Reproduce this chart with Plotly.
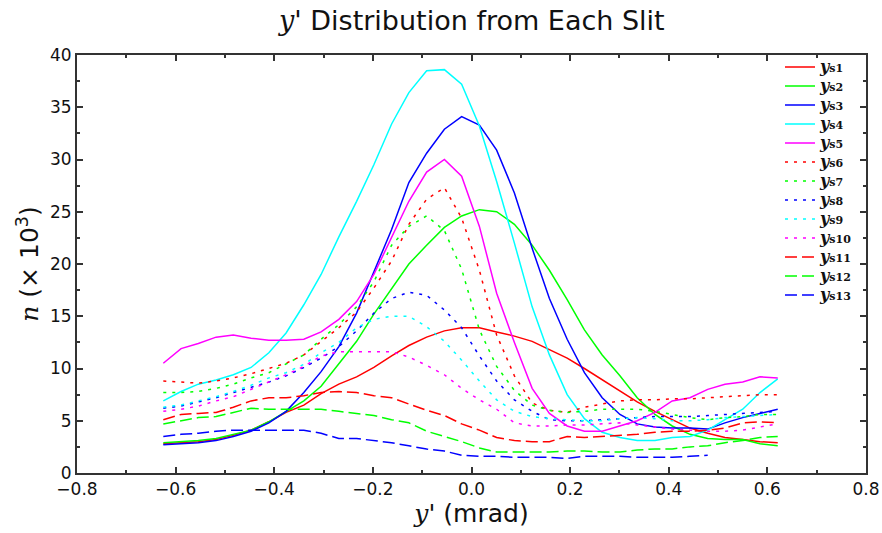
import plotly.graph_objects as go

# x positions (mrad)
x_vals = [-0.625, -0.589, -0.554, -0.518, -0.483, -0.447, -0.411, -0.376, -0.340, -0.305,
          -0.269, -0.233, -0.198, -0.162, -0.127, -0.091, -0.055, -0.020, 0.016, 0.051,
          0.087, 0.123, 0.158, 0.194, 0.229, 0.265, 0.301, 0.336, 0.372, 0.407,
          0.443, 0.479, 0.514, 0.550, 0.585, 0.621]

s1 = [2.8, 2.9, 3.0, 3.2, 3.6, 4.1, 4.9, 5.8, 6.5, 7.6, 8.5, 9.2, 10.1, 11.2, 12.2, 13.0, 13.6, 13.9,
      13.9, 13.5, 13.1, 12.6, 11.8, 11.0, 10.0, 8.9, 7.8, 6.8, 5.9, 5.1, 4.3, 3.8, 3.4, 3.2, 3.0, 2.9]
s2 = [2.9, 3.0, 3.1, 3.3, 3.7, 4.1, 4.9, 5.9, 6.9, 8.3, 10.4, 12.6, 15.2, 17.6, 20.0, 21.8, 23.5, 24.6,
      25.2, 25.0, 23.8, 21.8, 19.4, 16.6, 13.7, 11.3, 9.3, 7.2, 5.6, 4.5, 3.7, 3.3, 3.2, 3.2, 2.8, 2.6]
s3 = [2.7, 2.8, 2.9, 3.1, 3.5, 4.0, 4.8, 5.9, 7.7, 9.7, 12.1, 15.3, 19.3, 23.3, 27.8, 30.6, 32.9, 34.1,
      33.3, 30.9, 26.8, 21.5, 16.7, 12.8, 9.6, 7.2, 5.6, 4.7, 4.4, 4.3, 4.3, 4.2, 4.8, 5.3, 5.7, 6.1]
s4 = [6.9, 7.8, 8.5, 8.9, 9.4, 10.1, 11.5, 13.4, 16.1, 19.0, 22.6, 26.0, 29.5, 33.4, 36.4, 38.5, 38.6, 37.2,
      33.2, 27.9, 22.0, 15.9, 11.3, 7.5, 5.2, 3.9, 3.4, 3.1, 3.1, 3.4, 3.5, 4.1, 5.1, 6.1, 7.7, 9.0]
s5 = [10.5, 11.9, 12.4, 13.0, 13.2, 12.9, 12.7, 12.7, 12.8, 13.5, 14.7, 16.4, 19.0, 22.5, 26.0, 28.8, 30.0, 28.4,
      23.6, 17.2, 12.5, 8.1, 5.7, 4.5, 4.0, 4.0, 4.5, 5.0, 5.8, 6.9, 7.2, 8.0, 8.5, 8.7, 9.2, 9.1]
s6 = [8.8, 8.7, 8.6, 8.8, 9.1, 9.5, 10.0, 10.5, 11.3, 12.6, 13.9, 15.4, 17.7, 20.3, 23.8, 26.2, 27.3, 24.4,
      19.4, 13.2, 9.3, 6.7, 6.0, 5.8, 6.3, 6.6, 6.9, 7.0, 7.0, 7.1, 7.1, 7.2, 7.3, 7.4, 7.5, 7.5]
s7 = [7.7, 7.7, 7.8, 8.1, 8.5, 9.1, 9.6, 10.4, 11.3, 12.8, 14.2, 15.9, 18.3, 21.8, 23.6, 24.6, 23.2, 19.5,
      13.7, 10.2, 7.9, 6.5, 6.0, 5.8, 5.9, 6.1, 6.1, 6.1, 5.9, 5.6, 5.3, 5.1, 5.3, 5.4, 5.6, 5.6]
s8 = [6.2, 6.4, 6.8, 7.2, 7.7, 8.2, 8.7, 9.3, 10.1, 11.0, 12.1, 13.6, 15.3, 16.7, 17.3, 17.0, 15.6, 13.9,
      11.2, 8.8, 7.0, 5.9, 5.1, 5.0, 5.0, 5.1, 5.2, 5.3, 5.4, 5.4, 5.4, 5.5, 5.6, 5.7, 5.8, 5.9]
s9 = [6.3, 6.5, 6.9, 7.3, 7.8, 8.4, 9.1, 9.6, 10.4, 11.5, 12.5, 13.9, 14.7, 15.0, 15.0, 14.0, 12.6, 10.8,
      8.8, 7.0, 5.9, 5.4, 5.2, 5.1, 5.0, 5.0, 5.2, 5.3, 5.2, 5.0, 5.0, 5.1, 5.3, 5.4, 5.5, 5.6]
s10 = [5.9, 6.1, 6.4, 6.9, 7.3, 8.0, 8.7, 9.4, 10.2, 11.2, 11.6, 11.6, 11.6, 11.6, 11.1, 10.3, 9.4, 8.1,
       7.0, 6.1, 4.8, 4.5, 4.5, 4.6, 4.6, 4.7, 4.8, 4.6, 4.4, 4.2, 4.1, 4.0, 4.0, 4.1, 4.4, 4.7]
s11 = [5.1, 5.6, 5.7, 5.8, 6.3, 6.9, 7.2, 7.2, 7.4, 7.7, 7.8, 7.7, 7.4, 7.2, 6.6, 6.0, 5.5, 4.7,
       4.1, 3.4, 3.1, 3.0, 3.0, 3.5, 3.4, 3.5, 3.6, 3.7, 3.9, 4.0, 4.0, 4.1, 4.3, 4.8, 4.9, 4.8]
s12 = [4.7, 5.0, 5.3, 5.4, 5.8, 6.2, 6.1, 6.1, 6.1, 6.1, 5.9, 5.7, 5.5, 5.1, 4.8, 4.0, 3.5, 3.0,
       2.4, 2.0, 2.0, 2.0, 2.0, 2.1, 2.1, 2.0, 2.0, 2.2, 2.3, 2.3, 2.5, 2.6, 2.9, 3.1, 3.4, 3.5]
s13 = [3.5, 3.7, 3.8, 4.0, 4.1, 4.1, 4.1, 4.1, 4.1, 3.8, 3.3, 3.3, 3.1, 2.9, 2.6, 2.3, 2.1, 1.7,
       1.6, 1.6, 1.5, 1.5, 1.5, 1.4, 1.6, 1.6, 1.6, 1.5, 1.5, 1.5, 1.6, 1.7]

series = [s1, s2, s3, s4, s5, s6, s7, s8, s9, s10, s11, s12, s13]
names = ["s1", "s2", "s3", "s4", "s5", "s6", "s7", "s8", "s9", "s10", "s11", "s12", "s13"]
colors = ["#ff0000", "#00ff00", "#0000ff", "#00ffff", "#ff00ff"] * 3
dashes = ["solid"] * 5 + ["3px,6px"] * 5 + ["12px,5px"] * 3

SERIF = "'DejaVu Serif', serif"
SANS = "DejaVu Sans"

fig = go.Figure()
for ys, nm, c, d in zip(series, names, colors, dashes):
    fig.add_trace(go.Scatter(
        x=x_vals[:len(ys)], y=ys, mode="lines",
        name=(f"<span style=\"font-size:16px\"><b><i>y</i></b></span>"
              f"<span style=\"font-size:11px\"><b>{nm}</b></span>"),
        line=dict(color=c, width=1.5, dash=d),
    ))

axis_common = dict(
    showline=True, linecolor="#333333", linewidth=2, mirror="ticks",
    ticks="inside", ticklen=6, tickwidth=1.5, tickcolor="#333333",
    showgrid=False, zeroline=False,
    tickfont=dict(family=SANS, size=17, color="#111111"),
)

fig.update_layout(
    width=882, height=533,
    paper_bgcolor="white", plot_bgcolor="white",
    margin=dict(l=77, r=16, t=55, b=60, autoexpand=False),
    title=dict(
        text=f"<span style=\"font-family:{SERIF};font-style:italic\">y</span>' Distribution from Each Slit",
        x=0.535, xanchor="center", y=0.962, yanchor="middle",
        font=dict(family=SANS, size=27, color="#111111"),
    ),
    xaxis=dict(
        range=[-0.8, 0.8], dtick=0.2, tick0=-0.8, tickformat=".1f",
        minor=dict(dtick=0.1, ticks="inside", ticklen=3, tickcolor="#333333"),
        title=dict(
            text=f"<span style=\"font-family:{SERIF};font-style:italic\">y</span>' (mrad)",
            font=dict(family=SANS, size=25, color="#111111"), standoff=2),
        **axis_common,
    ),
    yaxis=dict(
        range=[0, 40], dtick=5, tick0=0,
        minor=dict(dtick=2.5, ticks="inside", ticklen=3, tickcolor="#333333"),
        title=dict(
            text=f"<span style=\"font-family:{SERIF};font-style:italic\">n</span> (× 10<sup>3</sup>)",
            font=dict(family=SANS, size=25, color="#111111"), standoff=4),
        **axis_common,
    ),
    legend=dict(
        x=0.891, y=1.006, xanchor="left", yanchor="top",
        bgcolor="rgba(0,0,0,0)", borderwidth=0,
        font=dict(family=SERIF, size=12, color="#111111"),
        tracegroupgap=0, itemwidth=30,
    ),
    showlegend=True,
)

fig.write_html("out.html")
